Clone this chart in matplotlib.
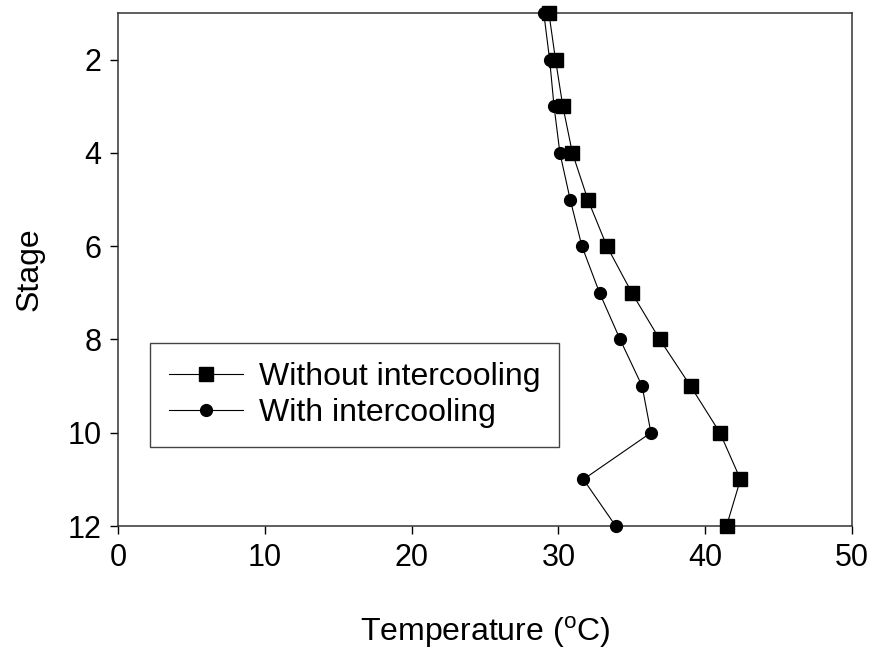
import numpy as np
import matplotlib.pyplot as plt

plt.rcParams['font.family'] = ['Liberation Sans', 'DejaVu Sans']
plt.rcParams['mathtext.fontset'] = 'custom'
plt.rcParams['mathtext.rm'] = 'Liberation Sans'

stages = np.arange(1, 13)
temp_without = [29.35, 29.8, 30.3, 30.95, 32.0, 33.3, 35.0, 36.9, 39.0, 41.0, 42.4, 41.45]
temp_with = [29.0, 29.4, 29.7, 30.1, 30.8, 31.6, 32.8, 34.2, 35.7, 36.3, 31.7, 33.9]

fig = plt.figure(figsize=(8.73, 6.51), dpi=100)
ax = fig.add_axes([0.1352, 0.192, 0.8408, 0.788])

ax.plot(temp_without, stages, color='black', lw=0.8, marker='s', ms=9.5,
        label='Without intercooling', clip_on=False, zorder=3)
ax.plot(temp_with, stages, color='black', lw=0.8, marker='o', ms=8.5,
        label='With intercooling', clip_on=False, zorder=3)

ax.set_xlim(0, 50)
ax.set_ylim(12, 1)
ax.set_xticks([0, 10, 20, 30, 40, 50])
ax.set_yticks([2, 4, 6, 8, 10, 12])
ax.tick_params(direction='out', length=6, width=1, labelsize=22, pad=6)
for s in ax.spines.values():
    s.set_linewidth(1.1)
    s.set_color('#333333')

ax.set_xlabel(r'Temperature ($^\mathregular{o}$C)', fontsize=23, labelpad=30)
ax.set_ylabel('Stage', fontsize=23, labelpad=16)

leg = ax.legend(loc='lower left', bbox_to_anchor=(0.0436, 0.154), fontsize=23,
                fancybox=False, edgecolor='#444444', framealpha=1,
                handlelength=2.3, borderpad=0.6, labelspacing=0.18,
                handletextpad=0.5, borderaxespad=0)
leg.get_frame().set_linewidth(1.0)

fig.savefig('out.png', dpi=100)
